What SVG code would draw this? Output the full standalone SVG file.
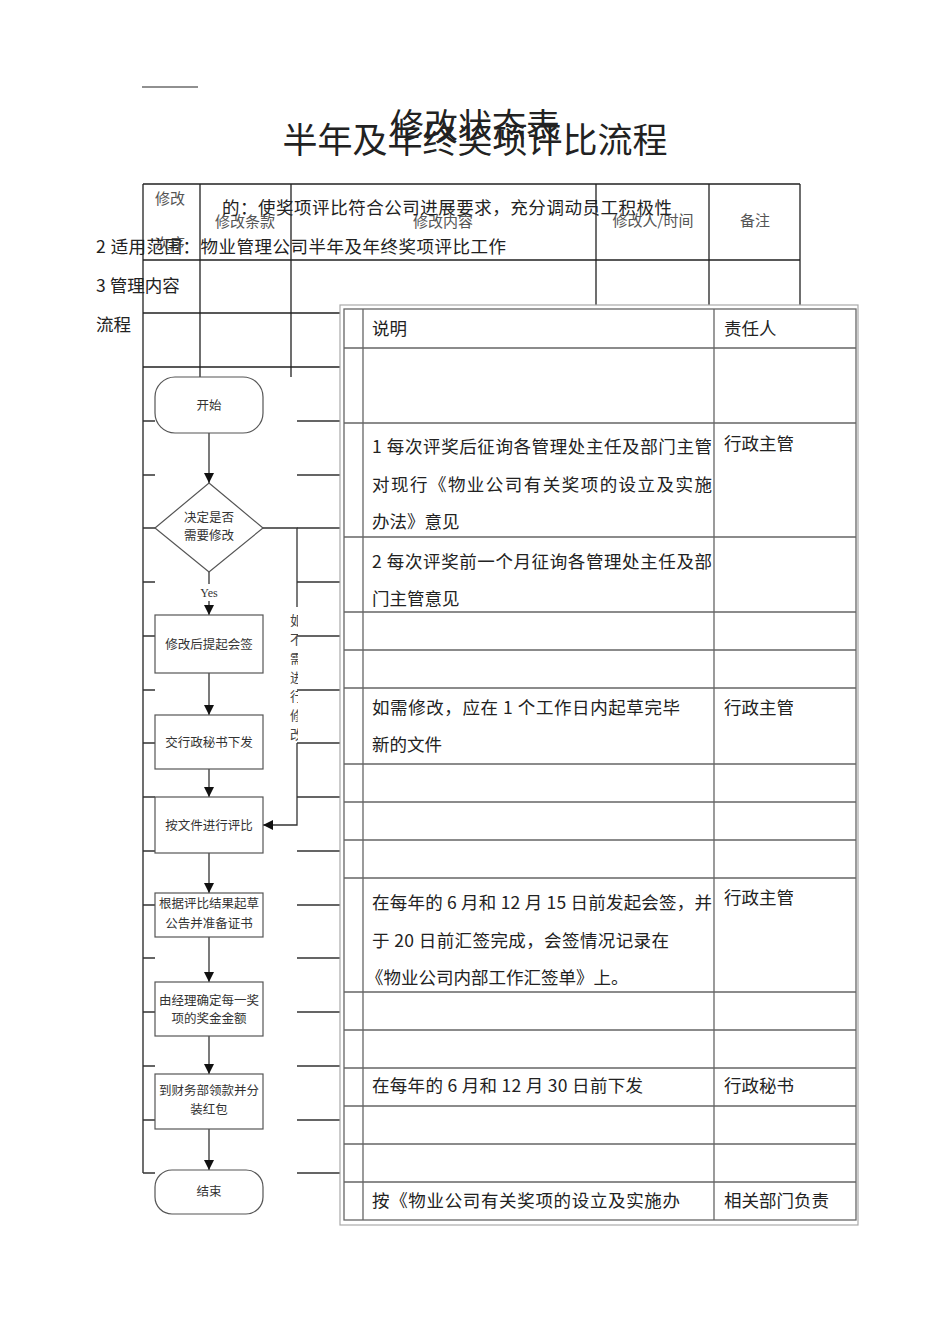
<svg xmlns="http://www.w3.org/2000/svg" width="950" height="1344" viewBox="0 0 950 1344">
<defs>
<style>
.t{font-family:"Noto Sans CJK SC","Liberation Sans",sans-serif;fill:#222}
.b{font-size:17.5px}
.h{font-size:15px;fill:#555;text-anchor:middle}
.f{font-size:12.5px;fill:#333;text-anchor:middle}
.ln{stroke:#222;stroke-width:1.3;fill:none}
.tk{stroke:#333;stroke-width:1.5;fill:none}
.rt{stroke:#666;stroke-width:1.3;fill:none}
.sh{fill:#fff;stroke:#555;stroke-width:1.2}
.cn{stroke:#333;stroke-width:1.3;fill:none}
</style>
<marker id="ah" markerUnits="userSpaceOnUse" markerWidth="10" markerHeight="11" refX="10" refY="5" orient="auto" viewBox="0 0 10 10">
<path d="M0,0 L10,5 L0,10 z" fill="#111"/>
</marker>
<clipPath id="vc"><rect x="284" y="607" width="14" height="138"/></clipPath>
</defs>
<rect width="950" height="1344" fill="#fff"/>

<line x1="142" y1="87" x2="198" y2="87" stroke="#222" stroke-width="1.2"/>

<g id="title">
<text class="t" x="475" y="153" font-size="35" text-anchor="middle">半年及年终奖项评比流程</text>
<text class="t" x="475" y="138" font-size="34" text-anchor="middle">修改状态表</text>
</g>

<g id="revision-table">
<path class="ln" d="M143,184 H800 M143,260 H800 M143,313 H344 M143,367 H344 M143,184 V1173 M200,184 V377 M291,184 V377 M596,184 V305 M709,184 V305 M800,184 V305"/>
<text class="t h" x="170" y="204">修改</text>
<text class="t h" x="170" y="249">次序</text>
<text class="t h" x="245" y="227">修改条款</text>
<text class="t h" x="443" y="227">修改内容</text>
<text class="t h" x="653" y="226">修改人/时间</text>
<text class="t h" x="755" y="226">备注</text>
</g>

<g id="intro">
<text class="t b" x="222" y="214" textLength="450" lengthAdjust="spacing">的：使奖项评比符合公司进展要求，充分调动员工积极性</text>
<text class="t b" x="96" y="253" textLength="410" lengthAdjust="spacing">2 适用范围：物业管理公司半年及年终奖项评比工作</text>
<text class="t b" x="96" y="292">3 管理内容</text>
<text class="t b" x="96" y="331">流程</text>
</g>

<g id="lane-ticks">
<path class="tk" d="M143,421 H155 M143,475 H155 M143,528 H155 M143,582 H155 M143,636 H155 M143,690 H155 M143,743 H155 M143,797 H155 M143,851 H155 M143,905 H155 M143,958 H155 M143,1012 H155 M143,1066 H155 M143,1120 H155 M143,1173 H155"/>
<path class="tk" d="M297,421 H344 M297,475 H344 M297,528 H344 M297,582 H344 M297,636 H344 M297,690 H344 M297,743 H344 M297,797 H344 M297,851 H344 M297,905 H344 M297,958 H344 M297,1012 H344 M297,1066 H344 M297,1120 H344 M297,1173 H344"/>
</g>

<g id="connectors">
<line class="cn" x1="209" y1="433" x2="209" y2="483" marker-end="url(#ah)"/>
<line class="cn" x1="209" y1="572" x2="209" y2="584"/>
<text x="209" y="597" font-family="Liberation Serif,serif" font-size="12" fill="#333" text-anchor="middle">Yes</text>
<line class="cn" x1="209" y1="601" x2="209" y2="615" marker-end="url(#ah)"/>
<line class="cn" x1="209" y1="673" x2="209" y2="715" marker-end="url(#ah)"/>
<line class="cn" x1="209" y1="769" x2="209" y2="797" marker-end="url(#ah)"/>
<line class="cn" x1="209" y1="853" x2="209" y2="893" marker-end="url(#ah)"/>
<line class="cn" x1="209" y1="937" x2="209" y2="982" marker-end="url(#ah)"/>
<line class="cn" x1="209" y1="1036" x2="209" y2="1074" marker-end="url(#ah)"/>
<line class="cn" x1="209" y1="1129" x2="209" y2="1170" marker-end="url(#ah)"/>
<polyline class="cn" points="263,528 297,528 297,607"/>
<polyline class="cn" points="297,743 297,825 263,825" marker-end="url(#ah)"/>
<g clip-path="url(#vc)" font-family="Noto Sans CJK SC,sans-serif" font-size="13" fill="#444">
<text x="290" y="625">如</text>
<text x="290" y="644">不</text>
<text x="290" y="663">需</text>
<text x="290" y="682">进</text>
<text x="290" y="701">行</text>
<text x="290" y="720">修</text>
<text x="290" y="739">改</text>
</g>
</g>

<g id="n-start"><rect class="sh" x="155" y="377" width="108" height="56" rx="20"/><text class="t f" x="209" y="410">开始</text></g>
<g id="n-decide"><polygon class="sh" points="209,483 263,528 209,572 155,528"/><text class="t f" x="209" y="522">决定是否</text><text class="t f" x="209" y="540">需要修改</text></g>
<g id="n-sign"><rect class="sh" x="155" y="615" width="108" height="58"/><text class="t f" x="209" y="649">修改后提起会签</text></g>
<g id="n-issue"><rect class="sh" x="155" y="715" width="108" height="54"/><text class="t f" x="209" y="747">交行政秘书下发</text></g>
<g id="n-eval"><rect class="sh" x="155" y="797" width="108" height="56"/><text class="t f" x="209" y="830">按文件进行评比</text></g>
<g id="n-draft"><rect class="sh" x="155" y="893" width="108" height="44"/><text class="t f" x="209" y="908">根据评比结果起草</text><text class="t f" x="209" y="928">公告并准备证书</text></g>
<g id="n-amount"><rect class="sh" x="155" y="982" width="108" height="54"/><text class="t f" x="209" y="1005">由经理确定每一奖</text><text class="t f" x="209" y="1023">项的奖金金额</text></g>
<g id="n-finance"><rect class="sh" x="155" y="1074" width="108" height="55"/><text class="t f" x="209" y="1095">到财务部领款并分</text><text class="t f" x="209" y="1114">装红包</text></g>
<g id="n-end"><rect class="sh" x="155" y="1170" width="108" height="44" rx="17"/><text class="t f" x="209" y="1196">结束</text></g>

<g id="desc-table">
<rect x="340" y="305" width="518" height="920" fill="#fff" stroke="#aaa" stroke-width="1.2"/>
<rect class="rt" x="344" y="309" width="512" height="911"/>
<path class="rt" d="M363,309 V1220 M714,309 V1220 M344,348 H856 M344,423 H856 M344,537 H856 M344,612 H856 M344,650 H856 M344,688 H856 M344,764 H856 M344,802 H856 M344,840 H856 M344,878 H856 M344,992 H856 M344,1030 H856 M344,1068 H856 M344,1106 H856 M344,1144 H856 M344,1182 H856"/>
<text class="t b" x="372" y="335">说明</text>
<text class="t b" x="724" y="335">责任人</text>
<text class="t b" x="372" y="453" textLength="340" lengthAdjust="spacing">1 每次评奖后征询各管理处主任及部门主管</text>
<text class="t b" x="372" y="491" textLength="340" lengthAdjust="spacing">对现行《物业公司有关奖项的设立及实施</text>
<text class="t b" x="372" y="528">办法》意见</text>
<text class="t b" x="724" y="450">行政主管</text>
<text class="t b" x="372" y="568" textLength="340" lengthAdjust="spacing">2 每次评奖前一个月征询各管理处主任及部</text>
<text class="t b" x="372" y="605">门主管意见</text>
<text class="t b" x="372" y="714" textLength="308" lengthAdjust="spacing">如需修改，应在 1 个工作日内起草完毕</text>
<text class="t b" x="372" y="751">新的文件</text>
<text class="t b" x="724" y="714">行政主管</text>
<text class="t b" x="372" y="909" textLength="340" lengthAdjust="spacing">在每年的 6 月和 12 月 15 日前发起会签，并</text>
<text class="t b" x="372" y="947" textLength="297" lengthAdjust="spacing">于 20 日前汇签完成，会签情况记录在</text>
<text class="t b" x="366" y="984">《物业公司内部工作汇签单》上。</text>
<text class="t b" x="724" y="904">行政主管</text>
<text class="t b" x="372" y="1092" textLength="271" lengthAdjust="spacing">在每年的 6 月和 12 月 30 日前下发</text>
<text class="t b" x="724" y="1092">行政秘书</text>
<text class="t b" x="372" y="1207" textLength="308" lengthAdjust="spacing">按《物业公司有关奖项的设立及实施办</text>
<text class="t b" x="724" y="1207">相关部门负责</text>
</g>
</svg>
